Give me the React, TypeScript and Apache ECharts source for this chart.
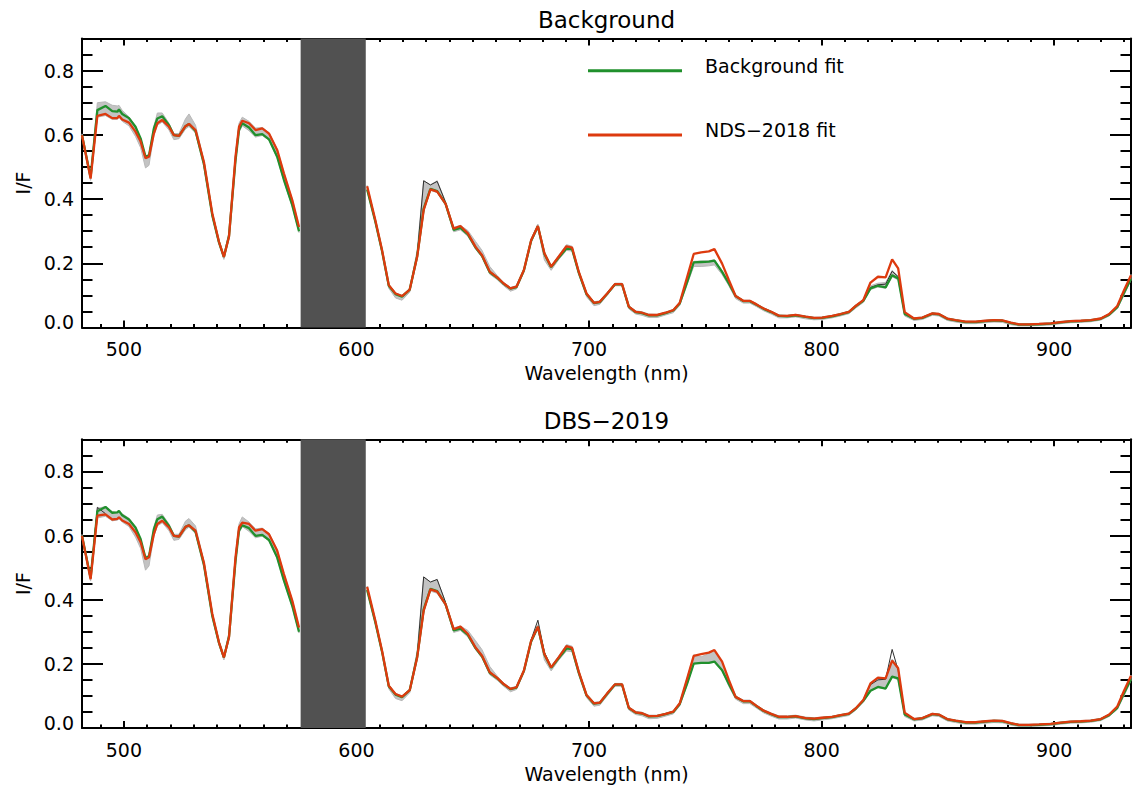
import React, { useEffect, useRef } from "react";
import * as echarts from "echarts";

// ---------- data ----------
const wavelength = [
  482.0, 485.7, 488.6, 492.1, 495.0, 497.2, 497.9, 499.3, 502.2, 505.0,
  507.2, 509.3, 510.8, 512.9, 514.4, 516.5, 519.4, 521.5, 523.7, 526.5,
  528.0, 530.8, 534.4, 538.0, 540.9, 543.0, 545.2, 548.0, 549.5, 550.9,
  553.8, 556.6, 559.5, 562.4, 565.9, 568.8, 572.4, 575.3, 590.0, 604.6,
  608.1, 611.0, 613.9, 616.8, 619.6, 622.9, 626.1, 628.9, 631.8, 634.7,
  638.3, 641.8, 644.7, 647.9, 651.2, 654.0, 657.3, 660.5, 663.3, 666.2,
  668.8, 672.0, 675.1, 678.0, 680.8, 683.7, 687.0, 690.3, 692.7, 695.6,
  698.9, 702.1, 704.6, 707.8, 711.1, 714.2, 717.1, 720.0, 722.8, 725.7,
  729.3, 732.9, 736.2, 739.0, 742.2, 745.0, 748.2, 751.5, 753.9, 757.2,
  760.1, 763.0, 766.3, 769.1, 772.0, 775.1, 778.3, 781.6, 785.2, 788.8,
  793.1, 796.7, 800.2, 804.5, 808.1, 811.7, 814.6, 817.9, 821.0, 824.2,
  827.5, 830.3, 832.9, 835.7, 839.7, 843.3, 847.6, 850.4, 854.0, 857.6,
  861.9, 866.2, 870.5, 874.1, 877.7, 881.3, 884.8, 889.1, 893.5, 898.5,
  902.8, 907.1, 911.4, 915.7, 920.0, 923.6, 927.1, 930.0, 933.0,
];

// Top panel ("Background")
const ndsFitTop = [
  0.599, 0.464, 0.659, 0.665, 0.652, 0.652, 0.659, 0.648, 0.638, 0.610,
  0.579, 0.527, 0.532, 0.604, 0.636, 0.646, 0.625, 0.599, 0.597, 0.627,
  0.634, 0.615, 0.516, 0.356, 0.267, 0.220, 0.283, 0.532, 0.625, 0.644,
  0.636, 0.615, 0.620, 0.604, 0.553, 0.480, 0.397, 0.313, null, 0.440,
  0.335, 0.241, 0.132, 0.106, 0.098, 0.118, 0.220, 0.366, 0.430, 0.423,
  0.386, 0.308, 0.316, 0.293, 0.251, 0.225, 0.174, 0.156, 0.137, 0.122,
  0.127, 0.179, 0.272, 0.316, 0.231, 0.189, 0.221, 0.253, 0.249, 0.173,
  0.106, 0.077, 0.080, 0.106, 0.135, 0.135, 0.065, 0.049, 0.046, 0.039,
  0.039, 0.046, 0.054, 0.077, 0.158, 0.229, 0.234, 0.237, 0.244, 0.199,
  0.148, 0.098, 0.083, 0.083, 0.072, 0.059, 0.049, 0.037, 0.036, 0.039,
  0.034, 0.030, 0.031, 0.036, 0.042, 0.049, 0.067, 0.085, 0.140, 0.158,
  0.156, 0.212, 0.184, 0.048, 0.028, 0.031, 0.044, 0.042, 0.028, 0.023,
  0.018, 0.018, 0.021, 0.023, 0.022, 0.015, 0.010, 0.010, 0.011, 0.013,
  0.017, 0.020, 0.021, 0.023, 0.028, 0.042, 0.067, 0.116, 0.163,
];
const bgFitTop = [
  0.599, 0.468, 0.677, 0.690, 0.674, 0.672, 0.679, 0.665, 0.652, 0.625,
  0.589, 0.532, 0.535, 0.620, 0.651, 0.658, 0.630, 0.599, 0.597, 0.627,
  0.634, 0.612, 0.510, 0.350, 0.265, 0.220, 0.285, 0.520, 0.615, 0.636,
  0.623, 0.599, 0.602, 0.586, 0.532, 0.460, 0.381, 0.300, null, 0.430,
  0.330, 0.238, 0.130, 0.104, 0.096, 0.118, 0.222, 0.370, 0.432, 0.425,
  0.386, 0.304, 0.310, 0.290, 0.249, 0.223, 0.172, 0.155, 0.136, 0.121,
  0.126, 0.178, 0.270, 0.315, 0.229, 0.188, 0.218, 0.246, 0.244, 0.170,
  0.104, 0.076, 0.079, 0.105, 0.134, 0.134, 0.064, 0.048, 0.045, 0.038,
  0.038, 0.045, 0.053, 0.075, 0.142, 0.203, 0.204, 0.205, 0.208, 0.173,
  0.137, 0.098, 0.082, 0.082, 0.071, 0.058, 0.048, 0.036, 0.035, 0.038,
  0.033, 0.029, 0.030, 0.035, 0.041, 0.048, 0.066, 0.083, 0.122, 0.130,
  0.125, 0.163, 0.153, 0.042, 0.027, 0.030, 0.043, 0.041, 0.027, 0.022,
  0.017, 0.017, 0.020, 0.022, 0.021, 0.014, 0.009, 0.009, 0.010, 0.012,
  0.016, 0.019, 0.020, 0.022, 0.027, 0.040, 0.063, 0.108, 0.152,
];
const obsLowTop = [
  0.593, 0.458, 0.655, 0.660, 0.648, 0.648, 0.655, 0.642, 0.628, 0.595,
  0.560, 0.497, 0.505, 0.598, 0.630, 0.640, 0.615, 0.585, 0.588, 0.618,
  0.626, 0.606, 0.500, 0.343, 0.258, 0.212, 0.278, 0.512, 0.608, 0.628,
  0.613, 0.593, 0.598, 0.583, 0.528, 0.456, 0.376, 0.296, null, 0.425,
  0.324, 0.232, 0.122, 0.092, 0.085, 0.110, 0.215, 0.360, 0.427, 0.420,
  0.380, 0.298, 0.304, 0.284, 0.244, 0.218, 0.166, 0.149, 0.130, 0.113,
  0.120, 0.172, 0.265, 0.309, 0.210, 0.178, 0.212, 0.240, 0.238, 0.164,
  0.096, 0.068, 0.072, 0.100, 0.130, 0.130, 0.058, 0.042, 0.038, 0.031,
  0.031, 0.039, 0.046, 0.069, 0.135, 0.190, 0.190, 0.192, 0.195, 0.165,
  0.130, 0.090, 0.076, 0.076, 0.065, 0.052, 0.042, 0.030, 0.030, 0.033,
  0.027, 0.024, 0.025, 0.030, 0.036, 0.043, 0.060, 0.078, 0.118, 0.126,
  0.122, 0.158, 0.148, 0.036, 0.022, 0.025, 0.038, 0.036, 0.022, 0.017,
  0.012, 0.012, 0.015, 0.017, 0.016, 0.009, 0.005, 0.005, 0.006, 0.008,
  0.012, 0.015, 0.016, 0.018, 0.023, 0.036, 0.058, 0.100, 0.148,
];
const obsHighTop = [
  0.603, 0.474, 0.700, 0.703, 0.692, 0.690, 0.692, 0.676, 0.656, 0.627,
  0.590, 0.534, 0.540, 0.626, 0.668, 0.668, 0.636, 0.604, 0.604, 0.650,
  0.665, 0.630, 0.520, 0.360, 0.271, 0.224, 0.298, 0.540, 0.636, 0.655,
  0.642, 0.621, 0.623, 0.607, 0.556, 0.483, 0.400, 0.316, null, 0.442,
  0.338, 0.244, 0.135, 0.108, 0.100, 0.121, 0.240, 0.457, 0.444, 0.457,
  0.392, 0.312, 0.318, 0.302, 0.268, 0.240, 0.190, 0.162, 0.140, 0.125,
  0.130, 0.182, 0.276, 0.322, 0.236, 0.192, 0.225, 0.258, 0.253, 0.176,
  0.108, 0.080, 0.083, 0.108, 0.138, 0.138, 0.068, 0.052, 0.049, 0.042,
  0.041, 0.048, 0.056, 0.079, 0.150, 0.206, 0.207, 0.208, 0.211, 0.178,
  0.140, 0.100, 0.085, 0.085, 0.074, 0.061, 0.051, 0.039, 0.038, 0.041,
  0.036, 0.032, 0.033, 0.038, 0.044, 0.051, 0.069, 0.087, 0.130, 0.138,
  0.140, 0.178, 0.160, 0.045, 0.030, 0.033, 0.046, 0.044, 0.030, 0.025,
  0.020, 0.020, 0.023, 0.025, 0.024, 0.017, 0.012, 0.012, 0.013, 0.015,
  0.019, 0.022, 0.023, 0.025, 0.030, 0.043, 0.067, 0.112, 0.165,
];
// single dark spectrum, only where it shows outside the fits
const obsDarkTop = [
  null, null, null, null, null, null, null, null, null, null,
  null, null, null, null, null, null, null, null, null, null,
  null, null, null, null, null, null, null, null, null, null,
  null, null, null, null, null, null, null, null, null, null,
  null, null, null, null, null, 0.118, 0.225, 0.457, 0.444, 0.455,
  0.390, null, null, null, null, null, null, null, null, null,
  null, null, null, null, null, null, null, null, null, null,
  null, null, null, null, null, null, null, null, null, null,
  null, null, null, null, null, null, null, null, null, null,
  null, null, null, null, null, null, null, null, null, null,
  null, null, null, null, null, null, null, 0.083, 0.125, 0.133,
  0.135, 0.175, 0.158, 0.045, null, null, null, null, null, null,
  null, null, null, null, null, null, null, null, null, null,
  null, null, null, null, null, null, null, null, null,
];

// Bottom panel ("DBS-2019")
const dbsFitBottom = [
  0.599, 0.464, 0.662, 0.666, 0.650, 0.652, 0.657, 0.647, 0.636, 0.610,
  0.579, 0.526, 0.532, 0.604, 0.636, 0.646, 0.625, 0.599, 0.597, 0.627,
  0.632, 0.615, 0.516, 0.356, 0.267, 0.220, 0.283, 0.532, 0.625, 0.640,
  0.636, 0.615, 0.620, 0.604, 0.553, 0.480, 0.397, 0.313, null, 0.440,
  0.335, 0.241, 0.132, 0.106, 0.098, 0.118, 0.220, 0.366, 0.432, 0.425,
  0.386, 0.308, 0.316, 0.293, 0.251, 0.225, 0.174, 0.156, 0.137, 0.122,
  0.127, 0.179, 0.272, 0.316, 0.231, 0.189, 0.221, 0.255, 0.250, 0.175,
  0.103, 0.077, 0.079, 0.108, 0.136, 0.136, 0.063, 0.049, 0.046, 0.037,
  0.038, 0.044, 0.051, 0.077, 0.155, 0.225, 0.230, 0.235, 0.243, 0.207,
  0.150, 0.097, 0.084, 0.084, 0.069, 0.054, 0.044, 0.035, 0.035, 0.037,
  0.031, 0.029, 0.032, 0.035, 0.040, 0.045, 0.061, 0.087, 0.139, 0.157,
  0.155, 0.210, 0.186, 0.048, 0.028, 0.031, 0.044, 0.042, 0.028, 0.023,
  0.018, 0.018, 0.021, 0.023, 0.022, 0.015, 0.010, 0.010, 0.011, 0.013,
  0.017, 0.020, 0.021, 0.023, 0.028, 0.042, 0.067, 0.116, 0.163,
];
const bgFitBottom = [
  0.599, 0.468, 0.676, 0.689, 0.671, 0.672, 0.677, 0.663, 0.650, 0.625,
  0.589, 0.530, 0.535, 0.620, 0.651, 0.659, 0.630, 0.599, 0.597, 0.627,
  0.632, 0.612, 0.510, 0.350, 0.265, 0.220, 0.285, 0.520, 0.615, 0.632,
  0.623, 0.599, 0.602, 0.586, 0.532, 0.460, 0.381, 0.300, null, 0.430,
  0.330, 0.238, 0.130, 0.104, 0.096, 0.118, 0.222, 0.370, 0.434, 0.427,
  0.386, 0.304, 0.310, 0.290, 0.249, 0.223, 0.172, 0.155, 0.136, 0.121,
  0.126, 0.178, 0.270, 0.315, 0.229, 0.188, 0.218, 0.248, 0.246, 0.172,
  0.102, 0.076, 0.078, 0.107, 0.135, 0.135, 0.062, 0.048, 0.045, 0.036,
  0.037, 0.043, 0.050, 0.075, 0.139, 0.201, 0.203, 0.203, 0.207, 0.180,
  0.137, 0.097, 0.083, 0.083, 0.068, 0.053, 0.043, 0.034, 0.034, 0.036,
  0.030, 0.028, 0.031, 0.034, 0.039, 0.044, 0.060, 0.085, 0.116, 0.128,
  0.123, 0.160, 0.155, 0.042, 0.027, 0.030, 0.043, 0.041, 0.027, 0.022,
  0.017, 0.017, 0.020, 0.022, 0.021, 0.014, 0.009, 0.009, 0.010, 0.012,
  0.016, 0.019, 0.020, 0.022, 0.027, 0.040, 0.063, 0.108, 0.152,
];
const obsLowBottom = [
  0.593, 0.458, 0.655, 0.660, 0.646, 0.648, 0.653, 0.642, 0.628, 0.595,
  0.560, 0.492, 0.505, 0.598, 0.630, 0.640, 0.615, 0.585, 0.588, 0.618,
  0.626, 0.606, 0.500, 0.343, 0.258, 0.212, 0.278, 0.512, 0.608, 0.628,
  0.613, 0.593, 0.598, 0.583, 0.528, 0.456, 0.376, 0.296, null, 0.425,
  0.324, 0.232, 0.122, 0.092, 0.085, 0.110, 0.215, 0.360, 0.427, 0.420,
  0.380, 0.298, 0.304, 0.284, 0.244, 0.218, 0.166, 0.149, 0.130, 0.113,
  0.120, 0.172, 0.265, 0.309, 0.212, 0.178, 0.212, 0.240, 0.238, 0.164,
  0.095, 0.068, 0.071, 0.100, 0.130, 0.130, 0.056, 0.042, 0.038, 0.029,
  0.030, 0.037, 0.044, 0.069, 0.135, 0.200, 0.203, 0.203, 0.205, 0.178,
  0.130, 0.090, 0.076, 0.076, 0.062, 0.047, 0.037, 0.028, 0.028, 0.031,
  0.025, 0.022, 0.025, 0.029, 0.034, 0.039, 0.055, 0.080, 0.115, 0.126,
  0.122, 0.158, 0.150, 0.036, 0.022, 0.025, 0.038, 0.036, 0.022, 0.017,
  0.012, 0.012, 0.015, 0.017, 0.016, 0.009, 0.005, 0.005, 0.006, 0.008,
  0.012, 0.015, 0.016, 0.018, 0.023, 0.036, 0.058, 0.100, 0.148,
];
const obsHighBottom = [
  0.603, 0.474, 0.685, 0.690, 0.675, 0.672, 0.675, 0.668, 0.654, 0.627,
  0.590, 0.534, 0.540, 0.626, 0.664, 0.666, 0.636, 0.604, 0.604, 0.645,
  0.653, 0.630, 0.520, 0.360, 0.271, 0.224, 0.298, 0.540, 0.636, 0.658,
  0.642, 0.621, 0.623, 0.607, 0.556, 0.483, 0.400, 0.316, null, 0.442,
  0.338, 0.244, 0.135, 0.108, 0.100, 0.121, 0.240, 0.471, 0.455, 0.463,
  0.392, 0.312, 0.318, 0.304, 0.272, 0.244, 0.192, 0.162, 0.140, 0.125,
  0.130, 0.182, 0.276, 0.322, 0.236, 0.192, 0.225, 0.260, 0.255, 0.178,
  0.106, 0.080, 0.082, 0.110, 0.139, 0.139, 0.066, 0.052, 0.049, 0.040,
  0.040, 0.046, 0.053, 0.079, 0.158, 0.228, 0.222, 0.232, 0.243, 0.205,
  0.150, 0.100, 0.087, 0.087, 0.072, 0.057, 0.047, 0.038, 0.038, 0.040,
  0.034, 0.032, 0.034, 0.037, 0.042, 0.047, 0.064, 0.089, 0.140, 0.155,
  0.158, 0.215, 0.190, 0.045, 0.030, 0.033, 0.046, 0.044, 0.030, 0.025,
  0.020, 0.020, 0.023, 0.025, 0.024, 0.017, 0.012, 0.012, 0.013, 0.015,
  0.019, 0.022, 0.023, 0.025, 0.030, 0.043, 0.067, 0.112, 0.165,
];
const obsDarkBottom = [
  null, 0.466, 0.688, 0.668, null, null, null, null, null, null,
  null, null, null, null, null, null, null, null, null, null,
  null, null, null, null, null, null, null, null, null, null,
  null, null, null, null, null, null, null, null, null, null,
  null, null, null, null, null, 0.118, 0.225, 0.471, 0.455, 0.463,
  0.392, null, null, null, null, null, null, null, null, null,
  null, null, 0.275, 0.336, 0.236, 0.190, null, null, null, null,
  null, null, null, null, null, null, null, null, null, null,
  null, null, null, null, null, null, null, null, null, null,
  null, null, null, null, null, null, null, null, null, null,
  null, null, null, null, null, null, null, 0.087, 0.135, 0.150,
  0.152, 0.245, 0.180, 0.045, null, null, null, null, null, null,
  null, null, null, null, null, null, null, null, null, null,
  null, null, null, null, null, null, null, null, null,
];

// axes / ticks
const xRange = [482, 933];
const yRange = [0, 0.9];
const xMajorTicks = [500, 600, 700, 800, 900];
const xMinorTicks = [
  490, 510, 520, 530, 540, 550, 560, 570, 580, 590, 610, 620, 630, 640, 650,
  660, 670, 680, 690, 710, 720, 730, 740, 750, 760, 770, 780, 790, 810, 820,
  830, 840, 850, 860, 870, 880, 890, 910, 920, 930,
];
const yMajorTicks = [0, 0.2, 0.4, 0.6, 0.8];
const yMinorTicks = [0.05, 0.1, 0.15, 0.25, 0.3, 0.35, 0.45, 0.5, 0.55, 0.65, 0.7, 0.75, 0.85];
const maskedRange = [576, 604];
const panelTitles = ["Background", "DBS\u22122019"];
const greenName = "Background fit";
const redNames = ["NDS\u22122018 fit", "DBS\u22122019 fit"];

// ---------- styling ----------
const FONT = '"DejaVu Sans", sans-serif';
const GREEN = "#20902c";
const RED = "#dd3a0e";
const GREY = "#c3c3c3";
const GRIDS = [
  { left: 82, top: 38.5, width: 1049, height: 289 },
  { left: 82, top: 439.3, width: 1049, height: 288.7 },
];

function pairs(vals: (number | null)[]) {
  return wavelength.map((w, i) => [w, vals[i] == null ? null : vals[i]]);
}

function makeXAxes(g: number) {
  const base = {
    gridIndex: g,
    type: "value",
    min: xRange[0],
    max: xRange[1],
    splitLine: { show: false },
  };
  return [
    {
      ...base,
      position: "bottom",
      axisLine: { show: true, onZero: false, lineStyle: { color: "#000", width: 2 } },
      axisTick: { show: true, inside: true, length: 7, customValues: xMajorTicks, lineStyle: { color: "#000", width: 2 } },
      axisLabel: { show: true, customValues: xMajorTicks, margin: 12, fontSize: 19, color: "#000", fontFamily: FONT },
      name: "Wavelength (nm)",
      nameLocation: "middle",
      nameGap: 36,
      nameTextStyle: { fontSize: 19, color: "#000", fontFamily: FONT },
    },
    {
      ...base,
      position: "bottom",
      axisLine: { show: false, onZero: false },
      axisTick: { show: true, inside: true, length: 3.5, customValues: xMinorTicks, lineStyle: { color: "#000", width: 2 } },
      axisLabel: { show: false },
    },
    {
      ...base,
      position: "top",
      axisLine: { show: true, onZero: false, lineStyle: { color: "#000", width: 2 } },
      axisTick: { show: true, inside: true, length: 7, customValues: xMajorTicks, lineStyle: { color: "#000", width: 2 } },
      axisLabel: { show: false },
    },
    {
      ...base,
      position: "top",
      axisLine: { show: false, onZero: false },
      axisTick: { show: true, inside: true, length: 3.5, customValues: xMinorTicks, lineStyle: { color: "#000", width: 2 } },
      axisLabel: { show: false },
    },
  ];
}

function makeYAxes(g: number) {
  const base = {
    gridIndex: g,
    type: "value",
    min: yRange[0],
    max: yRange[1],
    splitLine: { show: false },
  };
  return [
    {
      ...base,
      position: "left",
      axisLine: { show: true, onZero: false, lineStyle: { color: "#000", width: 2 } },
      axisTick: { show: true, inside: true, length: 21, customValues: yMajorTicks, lineStyle: { color: "#000", width: 2 } },
      axisLabel: {
        show: true,
        customValues: yMajorTicks,
        margin: 8,
        fontSize: 19,
        color: "#000",
        fontFamily: FONT,
        formatter: (v: number) => (v === 0 ? "{lo|0.0}" : v.toFixed(1)),
        rich: { lo: { fontSize: 19, color: "#000", fontFamily: FONT, padding: [0, 0, 11, 0] } },
      },
      name: "I/F",
      nameLocation: "middle",
      nameGap: 50,
      nameRotate: 90,
      nameTextStyle: { fontSize: 19, color: "#000", fontFamily: FONT },
    },
    {
      ...base,
      position: "left",
      axisLine: { show: false, onZero: false },
      axisTick: { show: true, inside: true, length: 10.5, customValues: yMinorTicks, lineStyle: { color: "#000", width: 2 } },
      axisLabel: { show: false },
    },
    {
      ...base,
      position: "right",
      axisLine: { show: true, onZero: false, lineStyle: { color: "#000", width: 2 } },
      axisTick: { show: true, inside: true, length: 21, customValues: yMajorTicks, lineStyle: { color: "#000", width: 2 } },
      axisLabel: { show: false },
    },
    {
      ...base,
      position: "right",
      axisLine: { show: false, onZero: false },
      axisTick: { show: true, inside: true, length: 10.5, customValues: yMinorTicks, lineStyle: { color: "#000", width: 2 } },
      axisLabel: { show: false },
    },
  ];
}

function makePanelSeries(
  g: number,
  low: (number | null)[],
  high: (number | null)[],
  dark: (number | null)[],
  green: (number | null)[],
  red: (number | null)[],
  redName: string
) {
  const xi = g * 4;
  const yi = g * 4;
  return [
    {
      type: "custom",
      name: "observed " + g,
      xAxisIndex: xi,
      yAxisIndex: yi,
      silent: true,
      z: 2,
      data: [[wavelength[0], 0]],
      renderItem: (_params: any, api: any) => {
        const children: any[] = [];
        let seg: number[] = [];
        const flush = () => {
          if (seg.length > 1) {
            const up = seg.map((i) => api.coord([wavelength[i], high[i]]));
            const lo = seg.map((i) => api.coord([wavelength[i], low[i]])).reverse();
            children.push({
              type: "polygon",
              shape: { points: up.concat(lo) },
              style: { fill: GREY, stroke: "#b8b8b8", lineWidth: 1 },
            });
          }
          seg = [];
        };
        wavelength.forEach((_w, i) => {
          if (low[i] == null || high[i] == null) flush();
          else seg.push(i);
        });
        flush();
        return { type: "group", children };
      },
    },
    {
      type: "line",
      name: "observed (dark) " + g,
      xAxisIndex: xi,
      yAxisIndex: yi,
      data: pairs(dark),
      showSymbol: false,
      connectNulls: false,
      lineStyle: { color: "#2e2e2e", width: 1 },
      silent: true,
      z: 3,
    },
    {
      type: "line",
      name: greenName,
      xAxisIndex: xi,
      yAxisIndex: yi,
      data: pairs(green),
      showSymbol: false,
      connectNulls: false,
      color: GREEN,
      lineStyle: { color: GREEN, width: 2.3 },
      z: 4,
    },
    {
      type: "line",
      name: redName,
      xAxisIndex: xi,
      yAxisIndex: yi,
      data: pairs(red),
      showSymbol: false,
      connectNulls: false,
      color: RED,
      lineStyle: { color: RED, width: 2.3 },
      z: 5,
    },
    {
      type: "custom",
      name: "masked " + g,
      xAxisIndex: xi,
      yAxisIndex: yi,
      silent: true,
      z: 10,
      data: [[maskedRange[0], maskedRange[1]]],
      encode: { x: [0, 1] },
      renderItem: (_params: any, api: any) => {
        const p0 = api.coord([api.value(0), yRange[1]]);
        const p1 = api.coord([api.value(1), yRange[0]]);
        return {
          type: "rect",
          shape: { x: p0[0], y: p0[1], width: p1[0] - p0[0], height: p1[1] - p0[1] },
          style: { fill: "#515151" },
        };
      },
    },
  ];
}

const legendItems = [
  { name: greenName, color: GREEN, y: 70.7 },
  { name: redNames[0], color: RED, y: 135 },
];

export default function App() {
  const ref = useRef<HTMLDivElement>(null);
  useEffect(() => {
    if (!ref.current) return;
    const chart = echarts.init(ref.current, null, { renderer: "svg" });
    const legendGraphics: any[] = [];
    legendItems.forEach((it) => {
      legendGraphics.push({
        type: "line",
        shape: { x1: 588, y1: it.y, x2: 682, y2: it.y },
        style: { stroke: it.color, lineWidth: 3 },
        silent: true,
      });
      legendGraphics.push({
        type: "text",
        x: 705,
        y: it.y - 5,
        style: {
          text: it.name,
          fontSize: 19,
          fontFamily: FONT,
          fill: "#000",
          align: "left",
          verticalAlign: "middle",
        },
        silent: true,
      });
    });
    const option: any = {
      animation: false,
      backgroundColor: "#fff",
      title: panelTitles.map((t, g) => ({
        text: t,
        left: GRIDS[g].left + GRIDS[g].width / 2,
        top: g === 0 ? 8 : 409,
        textAlign: "center",
        padding: 0,
        textStyle: { fontSize: 23, fontWeight: "normal", color: "#000", fontFamily: FONT },
      })),
      graphic: legendGraphics,
      grid: GRIDS,
      xAxis: [...makeXAxes(0), ...makeXAxes(1)],
      yAxis: [...makeYAxes(0), ...makeYAxes(1)],
      series: [
        ...makePanelSeries(0, obsLowTop, obsHighTop, obsDarkTop, bgFitTop, ndsFitTop, redNames[0]),
        ...makePanelSeries(1, obsLowBottom, obsHighBottom, obsDarkBottom, bgFitBottom, dbsFitBottom, redNames[1]),
      ],
    };
    chart.setOption(option);
    return () => chart.dispose();
  }, []);
  return (
    <div
      ref={ref}
      style={{ position: "fixed", left: 0, top: 0, width: 1133, height: 791, background: "#fff" }}
    />
  );
}
